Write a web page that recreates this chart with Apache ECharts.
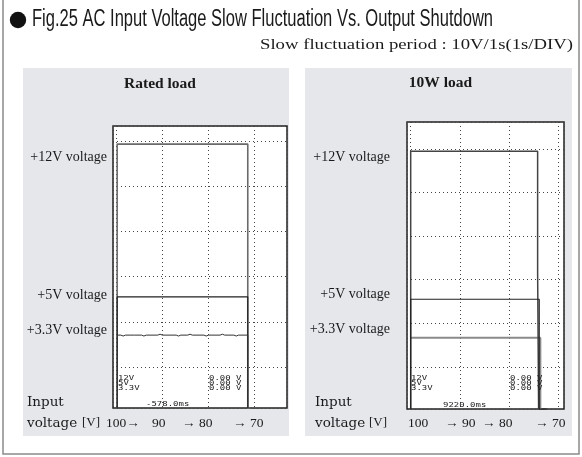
<!DOCTYPE html>
<html>
<head>
<meta charset="utf-8">
<script src="https://cdn.jsdelivr.net/npm/echarts@6/dist/echarts.min.js"></script>
<style>
  html, body { margin: 0; padding: 0; background: #fff; }
  #main { width: 582px; height: 457px; }
</style>
</head>
<body>
<div id="main"></div>
<script>
// --- data (scope traces, in divisions: x = seconds from the centre line, y = divisions above the lowest grid line)
const panelTitles = ['Rated load', '10W load'];
const traceLabels = ['+12V voltage', '+5V voltage', '+3.3V voltage'];
const inputStepsRated = ['100→', '90', '→ 80', '→ 70'];
const inputSteps10W = ['100', '→ 90', '→ 80', '→ 70'];
const readoutNames = ['12V', '5V', '3.3V'];
const readoutValues = ['0.00 V', '0.00 V', '0.00 V'];
const cursorTimes = ['-578.0ms', '9220.0ms'];

const rated12V = [[-0.98, -0.9], [-0.98, 4.93], [1.85, 4.93], [1.85, -0.9], [1.9, -0.9]];
const rated5V = [[-0.98, -0.9], [-0.98, 1.555], [1.85, 1.555], [1.85, -0.9]];
const rated33V = [
  [-0.98, 0.71], [-0.9, 0.71], [-0.85, 0.69], [-0.8, 0.71], [-0.7, 0.71], [-0.66, 0.73],
  [-0.6, 0.71], [-0.45, 0.71], [-0.4, 0.69], [-0.35, 0.71], [-0.1, 0.71], [-0.05, 0.73],
  [0.0, 0.71], [0.3, 0.71], [0.35, 0.69], [0.4, 0.71], [0.55, 0.71], [0.6, 0.73],
  [0.65, 0.71], [0.9, 0.71], [0.95, 0.69], [1.0, 0.71], [1.25, 0.71], [1.3, 0.73],
  [1.35, 0.71], [1.55, 0.71], [1.6, 0.69], [1.65, 0.71], [1.85, 0.71], [1.85, -0.9]
];

const w10_12V = [[-1.0, -0.97], [-1.0, 4.95], [1.575, 4.95], [1.575, 2.16], [1.595, 2.16], [1.595, -0.97]];
const w10_5V = [[-1.0, -0.97], [-1.0, 1.55], [1.607, 1.55], [1.607, -0.97], [1.76, -0.97]];
const w10_33V = [[-1.0, 0.667], [1.63, 0.667], [1.63, -0.97]];

// axis extents of the two scope screens
const ratedX = [-1.07, 2.7];
const ratedY = [-0.9, 5.33];
const w10X = [-1.075, 2.11];
const w10Y = [-0.97, 5.62];

// --- helpers
const measureCtx = document.createElement('canvas').getContext('2d');
function fit(text, font, width) {
  measureCtx.font = font;
  return width / measureCtx.measureText(text).width;
}

function txt(text, x, y, font, opts) {
  opts = opts || {};
  return {
    type: 'text',
    x: x,
    y: y,
    z: 10,
    scaleX: opts.scaleX || 1,
    scaleY: opts.scaleY || 1,
    style: {
      text: text,
      font: font,
      fill: opts.fill || '#1a1a1a',
      textAlign: opts.align || 'left',
      textVerticalAlign: 'middle'
    }
  };
}

const titleFont = '23px "Liberation Sans", Arial, sans-serif';
const titleText = 'Fig.25 AC Input Voltage Slow Fluctuation Vs. Output Shutdown';
const subFont = '14px "Liberation Serif", serif';
const subText = 'Slow fluctuation period : 10V/1s(1s/DIV)';
const labelFont = '14px "Liberation Serif", serif';
const panelFont = 'bold 15.5px "Liberation Serif", serif';
const wordFont = '13.5px "DejaVu Serif", serif';
const unitFont = '13px "Liberation Serif", serif';
const numFont = '13.5px "Liberation Serif", serif';
const monoFont = '9px "DejaVu Sans Mono", monospace';

const graphics = [
  { type: 'rect', z: -5, shape: { x: 3, y: -2, width: 576, height: 456 }, style: { fill: '#fff', stroke: '#8a8a8a', lineWidth: 1.5 } },
  { type: 'rect', z: -4, shape: { x: 23, y: 68, width: 266, height: 368 }, style: { fill: '#e6e7eb' } },
  { type: 'rect', z: -4, shape: { x: 305, y: 68, width: 267, height: 368 }, style: { fill: '#e6e7eb' } },
  { type: 'circle', z: 10, shape: { cx: 18, cy: 20, r: 8.2 }, style: { fill: '#111' } },
  txt(titleText, 32, 20, titleFont, { scaleX: fit(titleText, titleFont, 461) }),
  txt(subText, 573, 45, subFont, { align: 'right', scaleX: fit(subText, subFont, 313) }),
  txt(panelTitles[0], 160, 84, panelFont, { align: 'center' }),
  txt(panelTitles[1], 440.5, 83, panelFont, { align: 'center' })
];

// trace labels left of each scope
const labelY = [[157, 295, 330], [157, 294, 329]];
const labelRight = [107, 390];
[0, 1].forEach(function (p) {
  traceLabels.forEach(function (t, i) {
    graphics.push(txt(t, labelRight[p], labelY[p][i], labelFont, { align: 'right' }));
  });
});

// input voltage row
graphics.push(txt('Input', 27, 402, wordFont));
graphics.push(txt('voltage', 27, 423, wordFont));
graphics.push(txt('[V]', 82, 423, unitFont));
graphics.push(txt('Input', 315, 402, wordFont));
graphics.push(txt('voltage', 315, 423, wordFont));
graphics.push(txt('[V]', 369, 423, unitFont));
const stepXRated = [106, 152, 182, 233];
const stepX10W = [408, 445, 482, 535];
inputStepsRated.forEach(function (s, i) { graphics.push(txt(s, stepXRated[i], 423, numFont)); });
inputSteps10W.forEach(function (s, i) { graphics.push(txt(s, stepX10W[i], 423, numFont)); });

// scope read-outs
const rowY = [378.3, 383.5, 388.7];
const readoutX = [[118, 209], [411, 510]];
[0, 1].forEach(function (p) {
  readoutNames.forEach(function (n, i) {
    graphics.push(txt(n, readoutX[p][0], rowY[i], monoFont, { scaleY: 0.68, fill: '#222' }));
    graphics.push(txt(readoutValues[i], readoutX[p][1], rowY[i], monoFont, { scaleY: 0.68, fill: '#222' }));
  });
});
graphics.push(txt(cursorTimes[0], 146, 404.5, monoFont, { scaleY: 0.72, fill: '#222' }));
graphics.push(txt(cursorTimes[1], 443, 405, monoFont, { scaleY: 0.72, fill: '#222' }));

// --- chart
const dotted = { show: true, lineStyle: { color: '#444', type: [1, 3], width: 1 } };
function axis(gridIndex, ext) {
  return {
    type: 'value',
    gridIndex: gridIndex,
    min: ext[0],
    max: ext[1],
    minInterval: 1,
    maxInterval: 1,
    axisLine: { show: false },
    axisTick: { show: false },
    axisLabel: { show: false },
    splitLine: dotted
  };
}
function trace(idx, data, color, width) {
  return {
    type: 'line',
    xAxisIndex: idx,
    yAxisIndex: idx,
    data: data,
    showSymbol: false,
    symbol: 'none',
    clip: false,
    lineStyle: { color: color, width: width },
    z: 3
  };
}

const myChart = echarts.init(document.getElementById('main'), null, { renderer: 'canvas' });
const option = {
  animation: false,
  backgroundColor: '#fff',
  grid: [
    { left: 113, top: 126, width: 174, height: 282, show: true, backgroundColor: '#fff', borderColor: '#222', borderWidth: 1.5 },
    { left: 407, top: 122, width: 157, height: 287, show: true, backgroundColor: '#fff', borderColor: '#222', borderWidth: 1.5 }
  ],
  xAxis: [axis(0, ratedX), axis(1, w10X)],
  yAxis: [axis(0, ratedY), axis(1, w10Y)],
  graphic: graphics,
  series: [
    trace(0, rated12V, '#6a6a6a', 1.6),
    trace(0, rated5V, '#222', 1.2),
    trace(0, rated33V, '#333', 1),
    trace(1, w10_33V, '#8a8a8a', 2),
    trace(1, w10_12V, '#444', 1.5),
    trace(1, w10_5V, '#222', 1.2)
  ]
};
option && myChart.setOption(option);
</script>
</body>
</html>
